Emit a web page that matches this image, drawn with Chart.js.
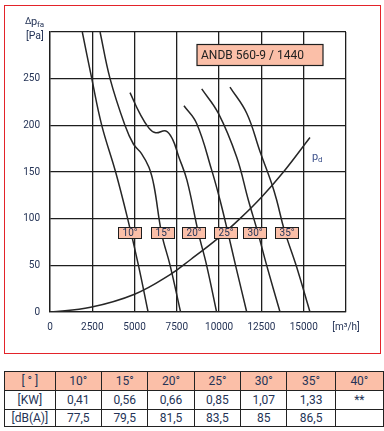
<!DOCTYPE html>
<html>
<head>
<meta charset="utf-8">
<script src="https://cdn.jsdelivr.net/npm/chart.js@4"></script>
<style>
  html, body { margin: 0; padding: 0; background: #fff; }
  body { width: 384px; height: 431px; position: relative; overflow: hidden; font-family: Roboto, sans-serif; }
  #frame { position: absolute; left: 4px; top: 5px; width: 375px; height: 347px; border: 1px solid #e3232a; }
  #wrap { position: absolute; left: 0; top: 0; width: 384px; height: 360px; }
  table { position: absolute; left: 4px; top: 371px; border-collapse: collapse; color: #243356; font-size: 12px; }
  td { border: 1px solid #222; text-align: center; padding: 0; line-height: 1; }
  tr.head td { background: #fbbfa8; height: 18px; }
  tr.r2 td { height: 17.5px; }
  tr.r3 td { height: 16.5px; }
</style>
</head>
<body>
<div id="frame"></div>
<div id="wrap"><canvas id="fan" width="384" height="360"></canvas></div>
<table id="tbl"></table>
<script>
// fan curves, [m3/h, Pa]
const curve10 = [[1910,300],[2470,250],[3060,200],[3880,150],[4590,100],[5230,50],[5800,0]];
const curve15 = [[2960,300],[3550,250],[4430,200],[4930,180],[5400,170],[5850,155],[6150,135],[6600,84],[7100,50],[7720,0]];
const curve20 = [[4730,235],[5300,213],[5850,197],[6250,192],[6850,194],[7250,185],[7600,167],[8100,141],[8770,85],[9260,50],[9850,0]];
const curve25 = [[7920,221],[8670,202],[9560,152],[10050,120],[10520,85],[10970,50],[11630,0]];
const curve30 = [[8970,239],[9950,213],[11035,166],[11725,120],[12290,85],[12810,50],[13600,0]];
const curve35 = [[10640,241],[11630,213],[12415,172],[13100,138],[13400,120],[13850,88],[14550,50],[15370,0]];
const curvePd = [[0,0],[2400,5],[5000,19],[7100,40],[8300,56],[10000,80],[11230,100],[12500,123],[13800,150],[15370,187]];

const angleLabels = ["10°","15°","20°","25°","30°","35°"];
const angleTagX = [4730, 6700, 8500, 10390, 12100, 14040];
const angleTagY = 85;

const xTicks = [0, 2500, 5000, 7500, 10000, 12500, 15000, 17500];
const yTicks = [0, 50, 100, 150, 200, 250, 300];

const tableAngles = ["10°","15°","20°","25°","30°","35°","40°"];
const powerKW = ["0,41","0,56","0,66","0,85","1,07","1,33","**"];
const noiseDB = ["77,5","79,5","81,5","83,5","85","86,5",""];

const TEXT = "#243356";
const SALMON = "#fbbfa8";
const LINE = "#1e1e1e";

// table
const colW = [50, 46, 46, 46, 46, 46, 48, 48];
function row(cls, head, cells) {
  const tr = document.createElement("tr");
  tr.className = cls;
  [head, ...cells].forEach((t, i) => {
    const td = document.createElement("td");
    td.textContent = t;
    td.style.width = colW[i] + "px";
    tr.appendChild(td);
  });
  document.getElementById("tbl").appendChild(tr);
}
row("head", "[ ° ]", tableAngles);
row("r2", "[KW]", powerKW);
row("r3", "[dB(A)]", noiseDB);

const toPts = (arr) => arr.map(([x, y]) => ({ x, y }));

const overlayPlugin = {
  id: "overlayPlugin",
  afterDatasetsDraw(chart) {
    const { ctx, chartArea } = chart;
    const { x, y } = chart.scales;
    ctx.save();

    // angle tags
    ctx.font = "10px Roboto";
    ctx.textAlign = "center";
    ctx.textBaseline = "middle";
    angleLabels.forEach((t, i) => {
      const cx = Math.round(x.getPixelForValue(angleTagX[i]));
      const cy = Math.round(y.getPixelForValue(angleTagY));
      ctx.fillStyle = SALMON;
      ctx.fillRect(cx - 11.5, cy - 5.5, 23, 11);
      ctx.strokeStyle = LINE;
      ctx.lineWidth = 1;
      ctx.strokeRect(cx - 11.5, cy - 5.5, 23, 11);
      ctx.fillStyle = TEXT;
      ctx.fillText(t, cx, cy + 0.5);
    });

    // model box
    const bx = chartArea.left + 147, by = chartArea.top + 12.5;
    ctx.fillStyle = SALMON;
    ctx.fillRect(bx, by, 126, 21);
    ctx.strokeStyle = LINE;
    ctx.lineWidth = 1.2;
    ctx.strokeRect(bx, by, 126, 21);
    ctx.fillStyle = "#222";
    ctx.font = "12px Roboto";
    ctx.textAlign = "left";
    ctx.fillText("ANDB 560-9 / 1440", bx + 4, by + 11);

    // pd label
    ctx.fillStyle = "#3a4f8a";
    ctx.font = "11px Roboto";
    ctx.fillText("p", 312, 157);
    ctx.font = "8px Roboto";
    ctx.fillText("d", 318, 160);

    // y axis title
    ctx.fillStyle = TEXT;
    ctx.font = "9px Roboto";
    ctx.fillText("Δ", 25, 22);
    ctx.font = "11px Roboto";
    ctx.fillText("p", 31, 22);
    ctx.font = "8px Roboto";
    ctx.fillText("fa", 37, 25);
    ctx.font = "10.5px Roboto";
    ctx.fillText("[Pa]", 26, 36);
    ctx.restore();
  },
};

const curveStyle = {
  borderColor: "#262626",
  borderWidth: 1.5,
  pointRadius: 0,
  fill: false,
  tension: 0.4,
};

new Chart(document.getElementById("fan"), {
  type: "line",
  data: {
    datasets: [curve10, curve15, curve20, curve25, curve30, curve35, curvePd].map((c, i) => ({
      label: i < 6 ? angleLabels[i] : "pd",
      data: toPts(c),
      ...curveStyle,
    })),
  },
  options: {
    responsive: false,
    animation: false,
    events: [],
    layout: { padding: { top: 32, right: 38, left: 0, bottom: 0 } },
    plugins: { legend: { display: false }, tooltip: { enabled: false } },
    scales: {
      x: {
        type: "linear",
        min: 0,
        max: 17500,
        afterFit: (s) => { s.height = 48; },
        afterBuildTicks: (s) => { s.ticks = xTicks.map((v) => ({ value: v })); },
        grid: { color: LINE, lineWidth: 1.3, drawTicks: false },
        border: { color: LINE, width: 1.3 },
        ticks: {
          padding: 9,
          maxRotation: 0,
          color: TEXT,
          font: { family: "Roboto", size: 10 },
          callback: (v) => (v === 17500 ? "[m³/h]" : String(v)),
        },
      },
      y: {
        min: 0,
        max: 300,
        afterFit: (s) => { s.width = 50; },
        afterBuildTicks: (s) => { s.ticks = yTicks.map((v) => ({ value: v })); },
        grid: { color: LINE, lineWidth: 1.3, drawTicks: false },
        border: { color: LINE, width: 1.3 },
        ticks: {
          padding: 10,
          color: TEXT,
          font: { family: "Roboto", size: 10 },
          callback: (v) => (v === 300 ? "" : String(v)),
        },
      },
    },
  },
  plugins: [overlayPlugin],
});
</script>
</body>
</html>
